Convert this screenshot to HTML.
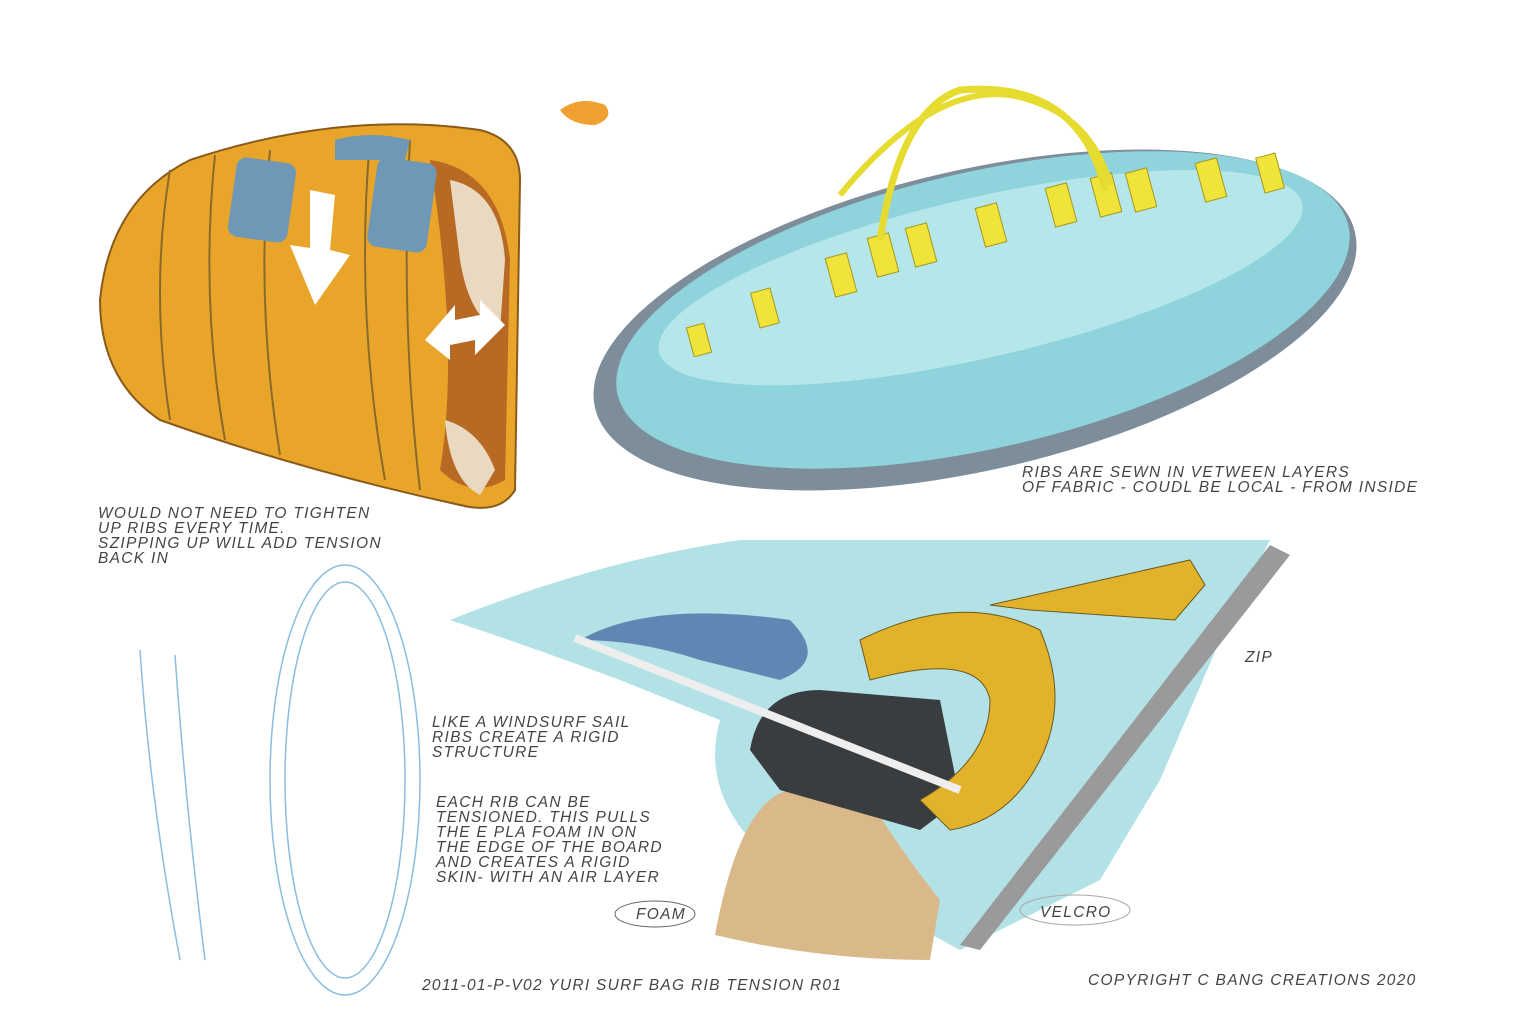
<!DOCTYPE html>
<html><head><meta charset="utf-8"><style>
html,body{margin:0;padding:0;background:#fff;width:1516px;height:1020px;overflow:hidden}
svg{display:block}
text{font-family:"Liberation Sans",sans-serif;font-style:italic;font-size:15.5px;fill:#444;letter-spacing:1.3px}
</style></head><body>
<svg width="1516" height="1020" viewBox="0 0 1516 1020">
<!-- orange bag -->
<path d="M190,160 Q340,110 480,130 Q520,140 520,180 L515,490 Q500,515 460,505 Q300,470 160,420 Q100,380 100,300 Q110,200 190,160 Z" fill="#e9a52a" stroke="#8a5a1a" stroke-width="2"/>
<path d="M430,160 Q500,170 510,260 L505,480 Q470,500 440,470 Q460,350 430,160 Z" fill="#b86a25"/>
<path d="M450,180 Q500,190 505,260 L500,330 Q470,320 460,260 Z" fill="#e8d9c0"/>
<path d="M445,420 Q480,430 495,470 L480,495 Q450,480 445,420 Z" fill="#e8d9c0"/>
<g fill="none" stroke="#8a6a2a" stroke-width="2">
<path d="M170,170 Q150,290 170,420"/><path d="M215,155 Q200,300 225,440"/><path d="M270,150 Q255,300 280,455"/><path d="M370,140 Q355,310 385,480"/><path d="M410,140 Q400,320 420,490"/>
</g>
<rect x="232" y="160" width="60" height="80" rx="10" fill="#6f97b6" transform="rotate(8 262 200)"/>
<rect x="372" y="160" width="60" height="90" rx="10" fill="#6f97b6" transform="rotate(8 402 205)"/>
<path d="M335,140 Q370,130 410,140 L405,160 Q365,160 335,160 Z" fill="#6f97b6"/>
<path d="M310,190 L335,195 L330,250 L350,255 L315,305 L290,245 L310,248 Z" fill="#fff"/>
<path d="M425,340 L455,305 L455,320 L480,315 L480,300 L505,325 L475,355 L475,340 L450,345 L450,360 Z" fill="#fff"/>
<path d="M560,110 Q580,95 605,105 Q615,118 595,125 Q570,125 560,110 Z" fill="#f0a030"/>
<!-- blue board -->
<g transform="rotate(-13 975 320)">
<ellipse cx="975" cy="320" rx="390" ry="150" fill="#7d8d99"/>
<ellipse cx="985" cy="312" rx="375" ry="138" fill="#8fd3dc"/>
<ellipse cx="990" cy="280" rx="330" ry="80" fill="#b5e6ea"/>
</g>
<g fill="#f0e33a" stroke="#a59820" stroke-width="1">
<rect x="690" y="325" width="18" height="30" transform="rotate(-15 699 340)"/>
<rect x="755" y="290" width="20" height="36" transform="rotate(-15 765 308)"/>
<rect x="830" y="255" width="22" height="40" transform="rotate(-15 841 275)"/>
<rect x="872" y="235" width="22" height="40" transform="rotate(-15 883 255)"/>
<rect x="910" y="225" width="22" height="40" transform="rotate(-15 921 245)"/>
<rect x="980" y="205" width="22" height="40" transform="rotate(-15 991 225)"/>
<rect x="1050" y="185" width="22" height="40" transform="rotate(-15 1061 205)"/>
<rect x="1095" y="175" width="22" height="40" transform="rotate(-15 1106 195)"/>
<rect x="1130" y="170" width="22" height="40" transform="rotate(-15 1141 190)"/>
<rect x="1200" y="160" width="22" height="40" transform="rotate(-15 1211 180)"/>
<rect x="1260" y="155" width="20" height="36" transform="rotate(-15 1270 173)"/>
</g>
<path d="M880,240 Q900,110 960,90 Q1080,80 1105,190" fill="none" stroke="#e6dc30" stroke-width="7"/>
<path d="M840,195 Q930,85 1010,95 Q1090,110 1110,185" fill="none" stroke="#e6dc30" stroke-width="6"/>
<!-- bottom panel -->
<path d="M450,620 Q600,560 740,540 L1270,540 L1220,640 L1160,780 L1100,880 L960,950 Q850,890 760,850 Q700,790 720,720 L620,680 Q540,650 450,620 Z" fill="#b3e2e6"/>
<path d="M1270,545 L1290,555 L980,950 L960,945 Z" fill="#9a9a9a"/>
<path d="M580,640 Q650,600 790,620 Q830,660 780,680 L700,660 Q640,640 580,640 Z" fill="#5f87b4"/>
<path d="M715,935 Q740,800 790,790 L870,800 Q900,850 940,900 L930,960 Q820,960 715,935 Z" fill="#d9b98a"/>
<path d="M750,750 Q760,690 820,690 L940,700 L960,800 L920,830 L780,790 Z" fill="#3a3d40"/>
<path d="M860,640 Q960,590 1040,630 Q1070,700 1040,760 Q1010,820 950,830 L920,800 Q990,760 990,700 Q980,650 870,680 Z" fill="#e2b22a" stroke="#6a5a20"/>
<path d="M990,605 L1190,560 L1205,585 L1175,620 L1030,610 Z" fill="#e2b22a" stroke="#6a5a20"/>
<path d="M575,638 L960,790" stroke="#eee" stroke-width="8"/>
<!-- rib outline -->
<g fill="none" stroke="#8bbde0" stroke-width="1.5">
<ellipse cx="345" cy="780" rx="75" ry="215"/><ellipse cx="345" cy="780" rx="60" ry="198"/>
<path d="M140,650 Q150,800 180,960"/><path d="M175,655 Q185,800 205,960"/>
</g>
<!-- labels -->
<text x="98" y="518">WOULD NOT NEED TO TIGHTEN</text>
<text x="98" y="533">UP RIBS EVERY TIME.</text>
<text x="98" y="548">SZIPPING UP WILL ADD TENSION</text>
<text x="98" y="563">BACK IN</text>
<text x="1022" y="477">RIBS ARE SEWN IN VETWEEN LAYERS</text>
<text x="1022" y="492">OF FABRIC - COUDL BE LOCAL - FROM INSIDE</text>
<text x="432" y="727">LIKE A WINDSURF SAIL</text>
<text x="432" y="742">RIBS CREATE A RIGID</text>
<text x="432" y="757">STRUCTURE</text>
<text x="436" y="807">EACH RIB CAN BE</text>
<text x="436" y="822">TENSIONED. THIS PULLS</text>
<text x="436" y="837">THE E PLA FOAM IN ON</text>
<text x="436" y="852">THE EDGE OF THE BOARD</text>
<text x="436" y="867">AND CREATES A RIGID</text>
<text x="436" y="882">SKIN- WITH AN AIR LAYER</text>
<ellipse cx="655" cy="914" rx="40" ry="13" fill="none" stroke="#666"/>
<text x="636" y="919">FOAM</text>
<ellipse cx="1075" cy="910" rx="55" ry="15" fill="none" stroke="#aaa"/>
<text x="1040" y="917">VELCRO</text>
<text x="1245" y="662">ZIP</text>
<text x="422" y="990">2011-01-P-V02 YURI SURF BAG RIB TENSION R01</text>
<text x="1088" y="985">COPYRIGHT C BANG CREATIONS 2020</text>
</svg>
</body></html>
